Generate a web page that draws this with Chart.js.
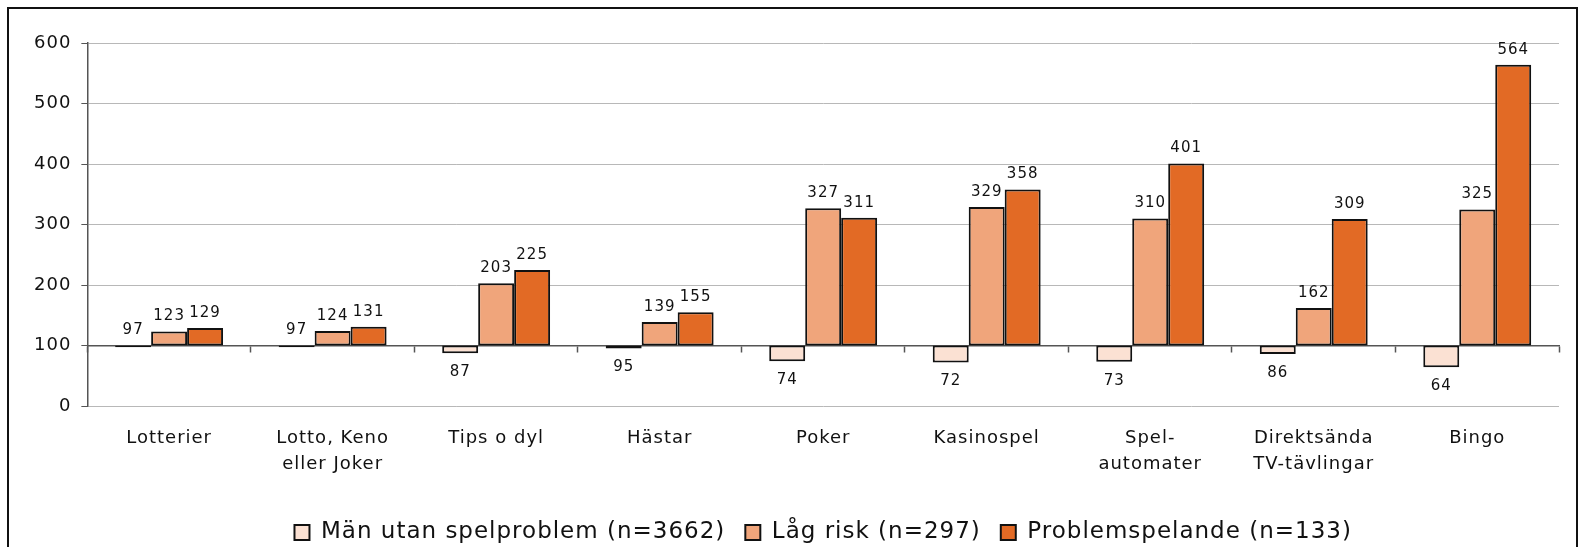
<!DOCTYPE html>
<html lang="sv">
<head>
<meta charset="utf-8">
<title>Spelformer – index per grupp</title>
<script src="https://cdn.jsdelivr.net/npm/chart.js@4.4.1/dist/chart.umd.min.js"></script>
<style>
	html, body { margin: 0; padding: 0; background: #fff; overflow: hidden; }
	#frame {
		position: absolute; left: 7px; top: 7px; width: 1571px; height: 600px;
		border: 2px solid #111; box-sizing: border-box;
	}
	#wrap { position: absolute; left: 0; top: 0; width: 1585px; height: 554px; }
</style>
</head>
<body>
<div id="frame"></div>
<div id="wrap"><canvas id="chart"></canvas></div>
<script>
// Index per spelform, 100 = genomsnitt
const BASE = 100;

const categories = [
	"Lotterier",
	["Lotto, Keno", "eller Joker"],
	"Tips o dyl",
	"Hästar",
	"Poker",
	"Kasinospel",
	["Spel-", "automater"],
	["Direktsända", "TV-tävlingar"],
	"Bingo",
];

const seriesNames = [
	"Män utan spelproblem (n=3662)",
	"Låg risk (n=297)",
	"Problemspelande (n=133)",
];

const utanProblem = [97, 97, 87, 95, 74, 72, 73, 86, 64];
const lagRisk = [123, 124, 203, 139, 327, 329, 310, 162, 325];
const problemspelande = [129, 131, 225, 155, 311, 358, 401, 309, 564];

const yTicks = [0, 100, 200, 300, 400, 500, 600];

const colors = ["#fbe1d3", "#f0a57b", "#e26a25"];

const FONT = "'DejaVu Sans', Verdana, sans-serif";

// bars float from the 100 line to the value
const toRange = (arr) => arr.map((v) => [BASE, v]);

// letter spacing for the Verdana-like look
const spacing = {
	id: "spacing",
	beforeUpdate(chart) { chart.ctx.letterSpacing = "1px"; },
	beforeDraw(chart) { chart.ctx.letterSpacing = "1px"; },
};

// centre the legend under the plot area instead of the canvas
const legendCenter = {
	id: "legendCenter",
	afterLayout(chart) {
		const lg = chart.legend;
		const area = chart.chartArea;
		const shift = (area.left + area.right) / 2 - (lg.left + lg.right) / 2;
		lg.left += shift;
		lg.right += shift;
	},
};

// value labels above / below each bar
const valueLabels = {
	id: "valueLabels",
	afterDatasetsDraw(chart) {
		const ctx = chart.ctx;
		ctx.save();
		ctx.font = `15px ${FONT}`;
		ctx.fillStyle = "#111";
		ctx.textAlign = "center";
		ctx.textBaseline = "middle";
		chart.data.datasets.forEach((ds, di) => {
			const meta = chart.getDatasetMeta(di);
			meta.data.forEach((bar, i) => {
				const v = ds.raw[i];
				const above = v > BASE || BASE - v < 4;
				const top = Math.min(bar.y, bar.base);
				const bottom = Math.max(bar.y, bar.base);
				const y = above ? top - 15 : bottom + 19;
				ctx.fillText(String(v), bar.x, y);
			});
		});
		ctx.restore();
	},
};

const ctx = document.getElementById("chart").getContext("2d");

new Chart(ctx, {
	type: "bar",
	data: {
		labels: categories,
		datasets: [utanProblem, lagRisk, problemspelande].map((arr, i) => ({
			label: seriesNames[i],
			raw: arr,
			data: toRange(arr),
			backgroundColor: colors[i],
			borderColor: "#111",
			borderWidth: 2,
			borderSkipped: false,
			categoryPercentage: 0.66,
			barPercentage: 1.0,
		})),
	},
	options: {
		responsive: true,
		maintainAspectRatio: false,
		animation: false,
		layout: { padding: { left: 24, right: 26, top: 43, bottom: 0 } },
		plugins: {
			tooltip: { enabled: false },
			legend: {
				position: "bottom",
				labels: {
					font: { family: FONT, size: 23 },
					color: "#111",
					boxWidth: 15,
					boxHeight: 15,
					padding: 20,
				},
			},
		},
		scales: {
			x: {
				type: "category",
				offset: true,
				grid: { display: false, drawTicks: false },
				border: { display: false },
				ticks: {
					font: { family: FONT, size: 18, lineHeight: 1.45 },
					color: "#111",
					padding: 19,
					maxRotation: 0,
					autoSkip: false,
				},
				afterFit(scale) { scale.height = 95; },
			},
			// category axis line drawn at 100
			x2: {
				type: "category",
				axis: "x",
				position: { y: BASE },
				offset: true,
				grid: {
					offset: true,
					drawOnChartArea: false,
					drawTicks: true,
					tickLength: 6,
					tickColor: "#555",
					tickWidth: 1.5,
				},
				border: { display: true, color: "#555", width: 1.5 },
				ticks: { display: false },
			},
			y: {
				min: 0,
				max: 600,
				afterBuildTicks(scale) { scale.ticks = yTicks.map((v) => ({ value: v })); },
				grid: {
					color: "#b8b8b8",
					lineWidth: 1,
					tickColor: "#555",
					tickLength: 6,
				},
				border: { display: true, color: "#555", width: 1.5 },
				ticks: {
					font: { family: FONT, size: 18 },
					color: "#111",
					padding: 10,
				},
			},
		},
	},
	plugins: [spacing, legendCenter, valueLabels],
});
</script>
</body>
</html>
